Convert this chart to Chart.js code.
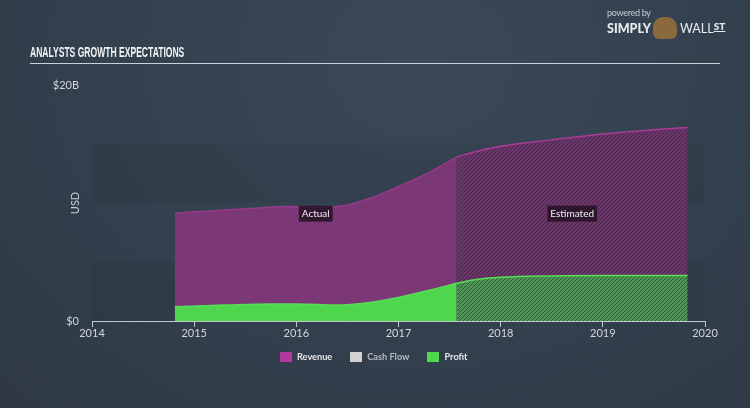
<!doctype html>
<html lang="en">
  <head>
    <meta charset="utf-8">
    <title>Analysts Growth Expectations</title>
    <style>
      * {
        margin: 0;
        padding: 0;
      }
      body {
        width: 750px;
        height: 408px;
        overflow: hidden;
        background: radial-gradient(ellipse at 420px 60px, #3a4859 0%, #34414f 45%, #2e3944 100%);
        font-family: Lato, sans-serif;
      }
      .chartBox {
        position: absolute;
        left: 0;
        top: 0;
        width: 750px;
        height: 408px;
      }
      .title {
        position: absolute;
        left: 30px;
        top: 44px;
        font-family: "Liberation Sans", sans-serif;
        font-weight: bold;
        font-size: 14.5px;
        color: #f2f4f6;
        transform: scaleX(0.59);
        transform-origin: left top;
        white-space: nowrap;
      }
      .rule {
        position: absolute;
        left: 30px;
        top: 63px;
        width: 690px;
        height: 1px;
        background: #c9d1d9;
      }
      .logo {
        position: absolute;
        left: 607px;
        top: 7px;
        color: #e8ecf0;
      }
      .logo .pb {
        font-size: 9px;
        color: #c5ccd4;
        letter-spacing: -0.3px;
      }
      .logo .name {
        font-size: 12.5px;
        margin-top: -1px;
        white-space: nowrap;
      }
      .logo .name b { font-weight: 900; }
      .logo .mascot {
        display: inline-block;
        width: 24px;
        height: 22px;
        margin: 0 3px -6px 2px;
        border-radius: 10px 10px 6px 6px;
        background: #8a6a3c;
      }
      .logo .st {
        font-weight: 900;
        font-size: 10px;
        text-decoration: underline;
        vertical-align: 3px;
      }
      .legend {
        position: absolute;
        left: 280px;
        top: 351px;
        display: flex;
        font-size: 9.2px;
        font-weight: bold;
        line-height: 12px;
        white-space: nowrap;
      }
      .legend span.item {
        display: flex;
        align-items: center;
        margin-right: 18px;
      }
      .legend i {
        display: inline-block;
        width: 12px;
        height: 10px;
        margin-right: 5px;
      }
    </style>
  </head>
  <body>
    <div class="chartBox">
      <canvas id="myChart"></canvas>
    </div>
    <div class="title">ANALYSTS GROWTH EXPECTATIONS</div>
    <div class="rule"></div>
    <div class="logo">
      <div class="pb">powered by</div>
      <div class="name"><b>SIMPLY</b><span class="mascot"></span>WALL<span class="st">ST</span></div>
    </div>
    <div class="legend" id="legend"></div>
    <script src="https://cdn.jsdelivr.net/npm/chart.js"></script>
    <script>
    // data (USD billions, x = decimal year)
    const revenueActualX = [2014.81, 2015.0, 2015.3, 2015.6, 2015.9, 2016.2, 2016.45, 2016.75, 2017.0, 2017.3, 2017.57];
    const revenueActual  = [9.15, 9.25, 9.4, 9.55, 9.7, 9.65, 9.75, 10.5, 11.4, 12.6, 13.9];
    const revenueEstX    = [2017.57, 2017.75, 2018.0, 2018.5, 2019.0, 2019.5, 2019.83];
    const revenueEst     = [13.9, 14.35, 14.8, 15.35, 15.85, 16.2, 16.4];
    const profitActualX  = [2014.81, 2015.3, 2015.75, 2016.0, 2016.4, 2016.7, 2017.0, 2017.3, 2017.57];
    const profitActual   = [1.2, 1.35, 1.45, 1.45, 1.35, 1.55, 2.0, 2.6, 3.2];
    const profitEstX     = [2017.57, 2017.75, 2018.0, 2018.5, 2019.0, 2019.5, 2019.83];
    const profitEst      = [3.2, 3.5, 3.7, 3.82, 3.85, 3.85, 3.85];
    const legendNames    = ['Revenue', 'Cash Flow', 'Profit'];
    const legendColors   = ['#b23a9f', '#d2d2d2', '#4ed84e'];
    const legendText     = ['#e6e8ea', '#b4bac1', '#e6e8ea'];
    const yTickLabels    = {0: '$0', 20: '$20B'};

    const pts = (xs, ys) => xs.map((x, i) => ({x: x, y: ys[i]}));

    document.getElementById('legend').innerHTML = legendNames.map((t, i) =>
      '<span class="item" style="color:' + legendText[i] + '"><i style="background:' + legendColors[i] + '"></i>' + t + '</span>'
    ).join('');

    function hatch(base, stripe) {
      const c = document.createElement('canvas');
      c.width = 4; c.height = 4;
      const g = c.getContext('2d');
      g.fillStyle = base;
      g.fillRect(0, 0, 4, 4);
      g.strokeStyle = stripe;
      g.lineWidth = 1;
      g.beginPath();
      g.moveTo(0, 4); g.lineTo(4, 0);
      g.moveTo(-1, 1); g.lineTo(1, -1);
      g.moveTo(3, 5); g.lineTo(5, 3);
      g.stroke();
      return g.createPattern(c, 'repeat');
    }

    // darker bands behind the chart every other 5B
    const bands = {
      id: 'bands',
      beforeDatasetsDraw(chart) {
        const {ctx, chartArea, scales: {y}} = chart;
        ctx.save();
        ctx.fillStyle = 'rgba(20, 28, 38, 0.09)';
        [[0, 5], [10, 15]].forEach(([a, b]) => {
          const top = y.getPixelForValue(b), bot = y.getPixelForValue(a);
          ctx.fillRect(chartArea.left, top, chartArea.right - chartArea.left, bot - top);
        });
        ctx.restore();
      }
    };

    // "Actual" / "Estimated" tags
    const tags = {
      id: 'tags',
      afterDatasetsDraw(chart) {
        const {ctx, scales: {x, y}} = chart;
        ctx.save();
        ctx.font = '10px Lato, sans-serif';
        ctx.textAlign = 'center';
        ctx.textBaseline = 'middle';
        [['Actual', 2016.19], ['Estimated', 2018.7]].forEach(([t, xv]) => {
          const px = x.getPixelForValue(xv), py = y.getPixelForValue(9.1);
          const w = ctx.measureText(t).width + 6;
          ctx.fillStyle = 'rgba(38, 18, 38, 0.85)';
          ctx.fillRect(px - w / 2, py - 8, w, 16);
          ctx.fillStyle = '#f0f0f0';
          ctx.fillText(t, px, py);
        });
        ctx.restore();
      }
    };

    const data = {
      datasets: [
        {
          label: 'Profit',
          data: pts(profitActualX, profitActual),
          backgroundColor: 'rgb(78, 214, 78)',
          borderColor: 'rgb(86, 224, 86)',
          borderWidth: 1.5,
          fill: 'origin',
          order: 0
        },
        {
          label: 'Profit est',
          data: pts(profitEstX, profitEst),
          backgroundColor: hatch('rgb(78, 150, 84)', 'rgb(44, 92, 56)'),
          borderColor: 'rgb(86, 224, 86)',
          borderWidth: 1.5,
          fill: 'origin',
          order: 0
        },
        {
          label: 'Revenue',
          data: pts(revenueActualX, revenueActual),
          backgroundColor: 'rgb(123, 55, 118)',
          borderColor: 'rgb(150, 58, 138)',
          borderWidth: 1.5,
          fill: 'origin',
          order: 1
        },
        {
          label: 'Revenue est',
          data: pts(revenueEstX, revenueEst),
          backgroundColor: hatch('rgb(106, 54, 106)', 'rgb(74, 40, 76)'),
          borderColor: 'rgb(170, 60, 152)',
          borderWidth: 1.5,
          fill: 'origin',
          order: 1
        }
      ]
    };

    const config = {
      type: 'line',
      data,
      plugins: [bands, tags],
      options: {
        responsive: false,
        animation: false,
        layout: { padding: { left: 0, right: 45, top: 85, bottom: 65 } },
        elements: {
          point: { radius: 0 },
          line: { tension: 0.3, cubicInterpolationMode: 'monotone' }
        },
        plugins: {
          tooltip: { enabled: false },
          legend: { display: false }
        },
        scales: {
          x: {
            type: 'linear',
            min: 2014,
            max: 2020,
            afterFit: s => { s.height = 22; },
            grid: { display: true, drawOnChartArea: false, drawTicks: true, tickLength: 6, color: '#c2c8ce' },
            border: { display: true, color: '#c2c8ce', width: 1 },
            ticks: {
              stepSize: 1,
              padding: 0,
              color: '#d2d6db',
              font: { size: 11, family: 'Lato, sans-serif' },
              callback: v => String(v)
            }
          },
          y: {
            min: 0,
            max: 20,
            afterFit: s => { s.width = 92; },
            grid: { display: false },
            border: { display: false },
            title: {
              display: true,
              text: 'USD',
              color: '#c8cdd3',
              font: { size: 11, family: 'Lato, sans-serif' },
              padding: { top: 69, bottom: 0 }
            },
            ticks: {
              stepSize: 20,
              padding: 5,
              color: '#d2d6db',
              font: { size: 11, family: 'Lato, sans-serif' },
              callback: v => yTickLabels[v]
            }
          }
        }
      }
    };

    const canvas = document.getElementById('myChart');
    canvas.width = 750;
    canvas.height = 408;
    const myChart = new Chart(canvas, config);
    </script>
  </body>
</html>
